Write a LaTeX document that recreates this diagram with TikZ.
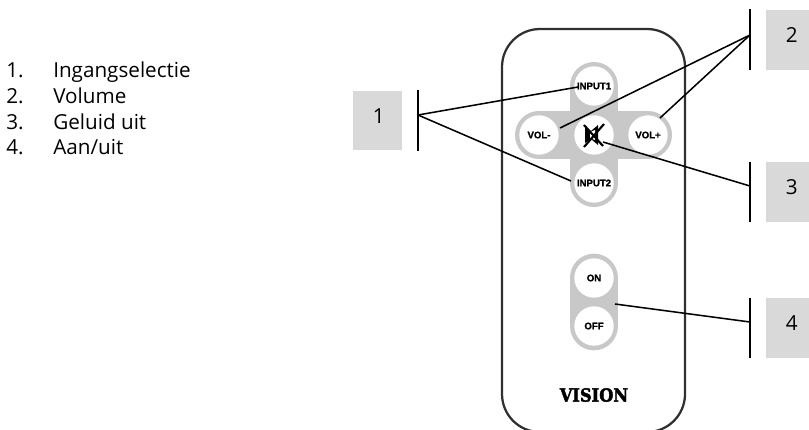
\documentclass[tikz,border=0pt]{standalone}
\usepackage{fontspec}
\setmainfont{Open Sans}
\newfontfamily\btnfont{Liberation Sans}[FakeBold=1.2]
\newfontfamily\logofont{DejaVu Serif}[FakeBold=2.5]
\usetikzlibrary{calc,positioning}
\definecolor{keygray}{HTML}{C8C8C8}
\definecolor{boxgray}{HTML}{D9D9D9}
\definecolor{shellgray}{HTML}{303030}
\tikzset{
  listtext/.style={anchor=base west,inner sep=0pt,font=\fontsize{15.5}{18}\selectfont},
  numberbox/.style={fill=boxgray,minimum width=36.75pt,minimum height=45pt,inner sep=0pt,text depth=7pt,
    execute at begin node=\hspace*{2pt},font=\fontsize{15.5}{18}\selectfont},
  keydisc/.style={circle,fill=white,minimum size=29.5pt,inner sep=0pt,font=\btnfont\bfseries\fontsize{7.2}{8}\selectfont},
  leader/.style={black,line width=1.15pt},
  barline/.style={black,line width=1.5pt}
}
\begin{document}
\begin{tikzpicture}[x=0.75pt,y=0.75pt]
\useasboundingbox (0,0) rectangle (809,-429);

% legend
\node[listtext] (num1) at (6,-77.5) {1.};
\node[listtext] (num2) at (6,-103.5) {2.};
\node[listtext] (num3) at (6,-129) {3.};
\node[listtext] (num4) at (6,-154.5) {4.};
\node[listtext] (item1) at (53,-77.5) {Ingangselectie};
\node[listtext] (item2) at (53,-103.5) {Volume};
\node[listtext] (item3) at (53,-129) {Geluid uit};
\node[listtext] (item4) at (53,-154.5) {Aan/uit};

% remote
\draw[shellgray,line width=1.7pt,rounded corners=28.5pt] (502,-29) rectangle (685,-432);
\draw[keygray,line width=36pt,line cap=round] (539,-135) -- (648,-135);
\draw[keygray,line width=36pt,line cap=round] (594,-86) -- (594,-183);
\draw[keygray,line width=36.5pt,line cap=round] (594,-278) -- (594,-326);

\node[keydisc] (input1) at (594,-86) {INPUT1};
\node[keydisc] (input2) at (594,-183) {INPUT2};
\node[keydisc] (volmin) at (539,-135) {VOL-};
\node[keydisc] (volplus) at (648,-135) {VOL+};
\node[keydisc] (mute) at (594,-135) {};
\node[keydisc] (on) at (594,-278) {ON};
\node[keydisc] (off) at (594,-326) {OFF};
\node[inner sep=0pt,font=\logofont\bfseries\fontsize{13.5}{14}\selectfont,xscale=0.9] (logo) at (594,-395) {VISION};

% mute icon
\fill[black] (585,-127) -- (591,-131) -- (598,-125) -- (598,-145) -- (591,-139) -- (585,-143) -- cycle;
\fill[white] (590,-132) -- (595,-130) -- (595,-140) -- (590,-138) -- cycle;
\draw[black,line width=1.6pt] (584,-125) -- (603,-146);
\draw[black,line width=1.6pt] (604,-124) -- (584,-147);

% number boxes
\node[numberbox,minimum height=44.25pt] (box1) at (377.5,-120.5) {1};
\node[numberbox] (box2) at (790.5,-40) {2};
\node[numberbox] (box3) at (790.5,-192) {3};
\node[numberbox] (box4) at (790.5,-328) {4};

% bars
\coordinate (bar1a) at (418,-90);
\coordinate (bar1b) at (418,-151);
\coordinate (bar2a) at (750,-9);
\coordinate (bar2b) at (750,-70);
\coordinate (bar3a) at (750,-162);
\coordinate (bar3b) at (750,-222);
\coordinate (bar4a) at (750,-298);
\coordinate (bar4b) at (750,-358);
\draw[barline] (bar1a) -- (bar1b);
\draw[barline] (bar2a) -- (bar2b);
\draw[barline] (bar3a) -- (bar3b);
\draw[barline] (bar4a) -- (bar4b);

% leaders
\coordinate (hub1) at (418,-115);
\coordinate (hub2) at (750,-35);
\coordinate (hub3) at (750,-186);
\coordinate (hub4) at (750,-322);
\coordinate (tipinput1) at (578,-87);
\coordinate (tipinput2) at (571,-181);
\coordinate (tipvolmin) at (560,-128);
\coordinate (tipvolplus) at (660,-118);
\coordinate (tipmute) at (603,-142);
\coordinate (tipkeys) at (615,-304);
\draw[leader] (hub1) -- (tipinput1);
\draw[leader] (hub1) -- (tipinput2);
\draw[leader] (hub2) -- (tipvolmin);
\draw[leader] (hub2) -- (tipvolplus);
\draw[leader] (hub3) -- (tipmute);
\draw[leader] (hub4) -- (tipkeys);
\end{tikzpicture}
\end{document}
